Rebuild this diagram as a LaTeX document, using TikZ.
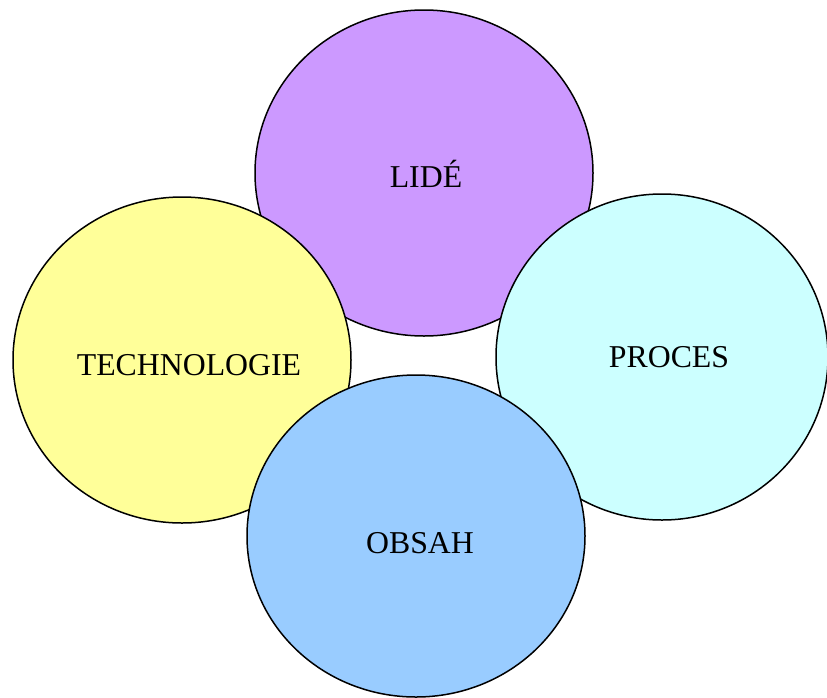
\documentclass[tikz,border=0pt]{standalone}
\usepackage{fontspec}
\setmainfont{Liberation Serif}
\usetikzlibrary{shapes.geometric}
\definecolor{lidecol}{HTML}{CC99FF}
\definecolor{techcol}{HTML}{FFFF99}
\definecolor{proccol}{HTML}{CCFFFF}
\definecolor{obsahcol}{HTML}{99CCFF}
\tikzset{
  kruh/.style={ellipse, draw=black, line width=1.5pt, inner sep=0pt,
    minimum width=338pt, minimum height=326pt},
  popis/.style={font=\fontsize{31.8}{36}\selectfont, inner sep=0pt}
}
\begin{document}
\begin{tikzpicture}[x=1pt, y=-1pt]
\useasboundingbox (0,0) rectangle (827,697);
% ctyri prekryvajici se kruhy, popisky lehce posunute
\node[kruh, fill=lidecol,
  label={[popis, xshift=2pt, yshift=-1pt]center:LIDÉ}] (lide) at (424,173) {};
\node[kruh, fill=techcol,
  label={[popis, xshift=7pt, yshift=-5pt]center:TECHNOLOGIE}] (tech) at (182,360) {};
\node[kruh, fill=proccol, minimum width=332pt,
  label={[popis, xshift=7pt]center:PROCES}] (proces) at (662,357) {};
\node[kruh, fill=obsahcol, minimum height=322pt,
  label={[popis, xshift=4pt, yshift=-7pt]center:OBSAH}] (obsah) at (416,536) {};
\end{tikzpicture}
\end{document}
